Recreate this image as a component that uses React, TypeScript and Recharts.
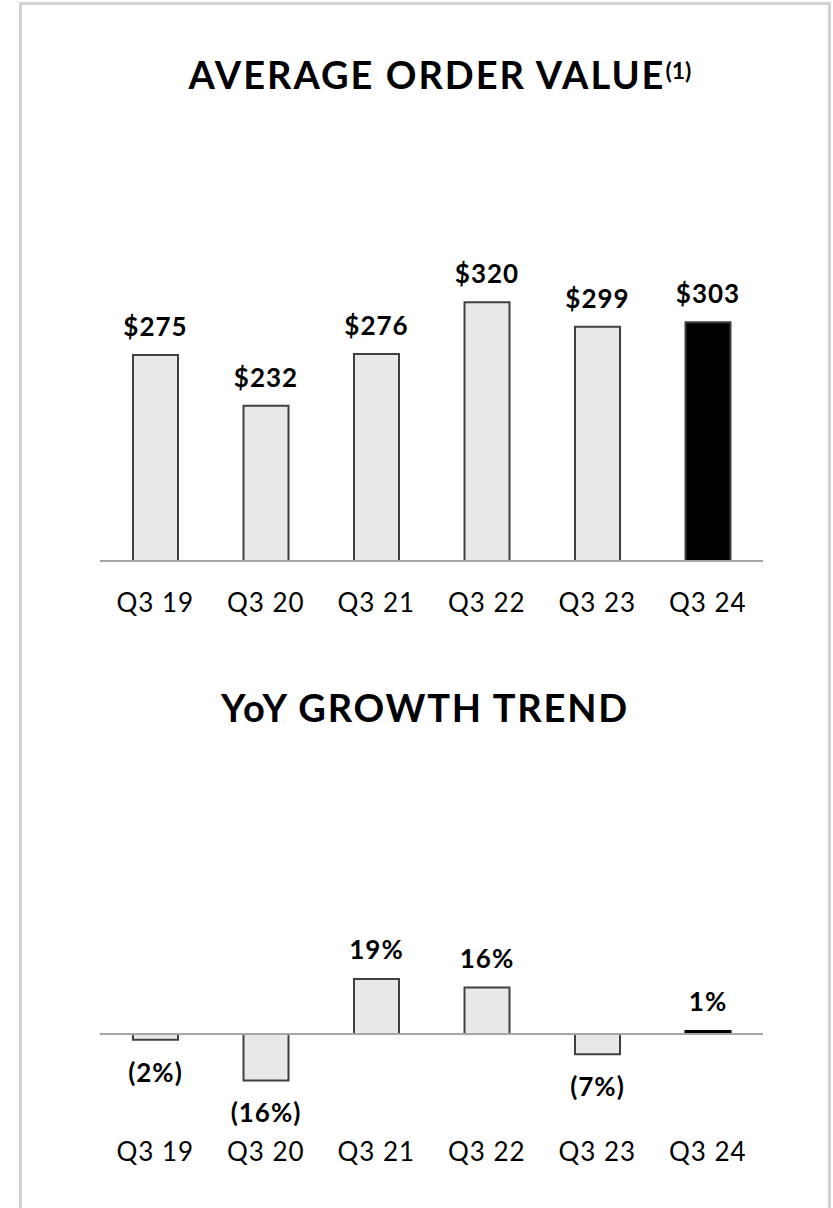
import { BarChart, Bar, XAxis, YAxis, Cell, LabelList, ReferenceLine } from "recharts";

const quarters = ["Q3 19", "Q3 20", "Q3 21", "Q3 22", "Q3 23", "Q3 24"];
const orderValues = [275, 232, 276, 320, 299, 303];
const yoyGrowth = [-2, -16, 19, 16, -7, 1];

const aovData = quarters.map((q, i) => ({ quarter: q, value: orderValues[i] }));
const yoyData = quarters.map((q, i) => ({ quarter: q, value: yoyGrowth[i] }));

const FONT = "Lato, 'Open Sans', sans-serif";
const BAR_FILL = "#e8e8e8";
const BAR_STROKE = "#404040";
const AXIS_GRAY = "#a6a6a6";

const getBox = (props: any) => {
    const vb = props.viewBox && props.viewBox.width !== undefined ? props.viewBox : props;
    const top = Math.min(vb.y, vb.y + vb.height);
    const bottom = Math.max(vb.y, vb.y + vb.height);
    return { cx: vb.x + vb.width / 2, top, bottom };
};

const DollarLabel = (props: any) => {
    const { cx, top } = getBox(props);
    return (
        <text x={cx} y={top - 19} textAnchor="middle" fontFamily={FONT} fontWeight={700} fontSize={26} letterSpacing={1} fill="#000">
            ${props.value}
        </text>
    );
};

const PctLabel = (props: any) => {
    const { cx, top, bottom } = getBox(props);
    const v = Number(props.value);
    const neg = v < 0;
    return (
        <text x={cx} y={neg ? bottom + 42 : top - 20} textAnchor="middle" fontFamily={FONT} fontWeight={700} fontSize={26} letterSpacing={1} fill="#000">
            {neg ? `(${-v}%)` : `${v}%`}
        </text>
    );
};

const makeTick = (offset: number) => (props: any) => {
    const { x, y, payload } = props;
    return (
        <text x={x} y={y + offset} textAnchor="middle" fontFamily={FONT} fontSize={26} letterSpacing={1} fill="#000">
            {payload.value}
        </text>
    );
};

export default function App() {
    const last = quarters.length - 1;
    return (
        <div style={{ position: "absolute", left: 0, top: 0, width: 833, height: 1208, overflow: "hidden", background: "#fff" }}>
            <div style={{ position: "absolute", left: 19, top: 2, width: 812, height: 1300, border: "3px solid #d2d2d2", boxSizing: "border-box" }} />

            <svg width={833} height={800} style={{ position: "absolute", left: 0, top: 0 }}>
                <text x={440} y={89} textAnchor="middle" fontFamily={FONT} fontWeight={700} fontSize={38} letterSpacing={2} fill="#000">
                    AVERAGE ORDER VALUE
                    <tspan fontSize={23} dy={-10} letterSpacing={0}>(1)</tspan>
                </text>
                <text x={425} y={722} textAnchor="middle" fontFamily={FONT} fontWeight={700} fontSize={38} letterSpacing={1.8} fill="#000">
                    YoY GROWTH TREND
                </text>
            </svg>

            <div style={{ position: "absolute", left: 0, top: 200 }}>
                <BarChart width={833} height={461} data={aovData} margin={{ top: 8, right: 70, bottom: 0, left: 100 }}>
                    <XAxis dataKey="quarter" height={100} tickLine={false} tickSize={0} tickMargin={0}
                        axisLine={{ stroke: AXIS_GRAY, strokeWidth: 2 }} tick={makeTick(51)} interval={0} />
                    <YAxis hide domain={[100, 400]} allowDataOverflow />
                    <Bar dataKey="value" barSize={45} stroke={BAR_STROKE} strokeWidth={2} isAnimationActive={false}>
                        {aovData.map((_, i) => (
                            <Cell key={i} fill={i === last ? "#000" : BAR_FILL} />
                        ))}
                        <LabelList dataKey="value" content={DollarLabel} />
                    </Bar>
                </BarChart>
            </div>

            <div style={{ position: "absolute", left: 0, top: 900 }}>
                <BarChart width={833} height={281} data={yoyData} margin={{ top: 47, right: 70, bottom: 0, left: 100 }}>
                    <XAxis dataKey="quarter" height={60} tickLine={false} tickSize={0} tickMargin={0}
                        axisLine={false} tick={makeTick(40)} interval={0} />
                    <YAxis hide domain={[-30, 30]} allowDataOverflow />
                    <ReferenceLine y={0} stroke={AXIS_GRAY} strokeWidth={2} />
                    <Bar dataKey="value" barSize={45} strokeWidth={2} isAnimationActive={false}>
                        {yoyData.map((_, i) => (
                            <Cell key={i} fill={i === last ? "#000" : BAR_FILL} stroke={i === last ? "#000" : BAR_STROKE} />
                        ))}
                        <LabelList dataKey="value" content={PctLabel} />
                    </Bar>
                </BarChart>
            </div>
        </div>
    );
}
